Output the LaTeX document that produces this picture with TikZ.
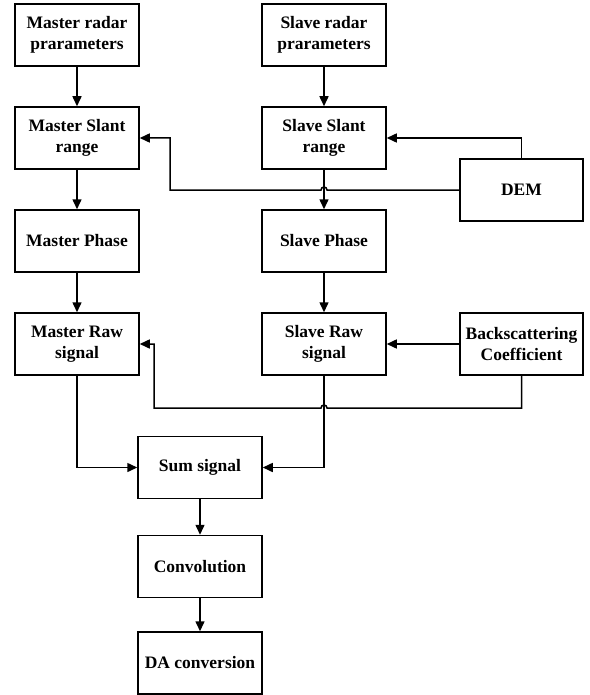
\documentclass[tikz,border=0pt]{standalone}
\usepackage{fontspec}
\setmainfont{Liberation Serif}
\usetikzlibrary{arrows.meta}
\begin{document}
\begin{tikzpicture}[x=1pt,y=-1pt,
  blk/.style={draw,line width=1.5pt,minimum width=124pt,minimum height=62pt,inner sep=1pt,align=center,font=\fontsize{17.5}{21}\selectfont\bfseries},
  conn/.style={line width=1.5pt,-{Triangle[length=10pt,width=9pt]}}]
\useasboundingbox (0,0) rectangle (589,695);
\node[blk] (mr) at (77,35) {Master radar\\prarameters};
\node[blk] (ms) at (77,138) {Master Slant\\range};
\node[blk] (mp) at (77,241) {Master Phase};
\node[blk] (mraw) at (77,344) {Master Raw\\signal};
\node[blk] (sr) at (324,35) {Slave radar\\prarameters};
\node[blk] (ss) at (324,138) {Slave Slant\\range};
\node[blk] (sp) at (324,241) {Slave Phase};
\node[blk] (sraw) at (324,344) {Slave Raw\\signal};
\node[blk,minimum width=123pt] (dem) at (521.5,190) {DEM};
\node[blk,minimum width=123pt] (bs) at (521.5,344) {Backscattering\\Coefficient};
\node[blk] (sum) at (200,467.5) {Sum signal};
\node[blk] (conv) at (200,566.5) {Convolution};
\node[blk] (da) at (200,663) {DA conversion};
\coordinate (j1) at (327,190);
\coordinate (j2) at (327,408);
\draw[conn] (mr) -- (ms);
\draw[conn] (ms) -- (mp);
\draw[conn] (mp) -- (mraw);
\draw[conn] (sr) -- (ss);
\draw[conn] (ss) -- (sp);
\draw[conn] (sp) -- (sraw);
\draw[conn] (sum) -- (conv);
\draw[conn] (conv) -- (da);
\draw[conn] (dem.north) |- (ss.east);
\draw[conn] (dem.west) -- (j1) arc (0:-180:3) -- (170,190) |- (ms.east);
\draw[conn] (bs.west) -- (sraw.east);
\draw[conn] (bs.south) |- (j2) arc (0:-180:3) -- (154,408) |- (mraw.east);
\draw[conn] (mraw.south) |- (sum.west);
\draw[conn] (sraw.south) |- (sum.east);
\end{tikzpicture}
\end{document}
